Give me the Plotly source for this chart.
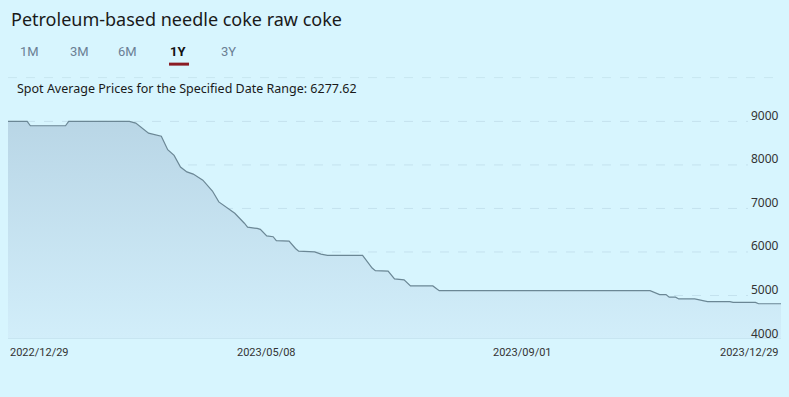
import plotly.graph_objects as go

# ---- data (breakpoints; x = trading-day index) ----
day_index = [0, 6, 7, 18, 19, 38, 40, 43, 44, 48, 50, 52, 54, 56, 58, 61, 64, 66, 68,
             71, 74, 75, 78, 79, 81, 83, 84, 88, 90, 91, 96, 98, 100, 111, 114, 115,
             119, 121, 124, 126, 133, 135, 201, 203, 204, 206, 207, 209, 210, 215,
             219, 226, 227, 234, 235, 242]
price = [9000, 9000, 8900, 8900, 9000, 9000, 8960, 8800, 8730, 8660, 8350, 8220, 7950,
         7840, 7790, 7650, 7400, 7150, 7050, 6890, 6660, 6570, 6540, 6520, 6370, 6350,
         6260, 6250, 6080, 6020, 6000, 5950, 5920, 5920, 5630, 5570, 5560, 5380, 5360,
         5220, 5220, 5110, 5110, 5050, 5020, 5020, 4960, 4960, 4920, 4920, 4860, 4860,
         4840, 4840, 4810, 4810]

tick_index = [0, 81, 161, 242]
tick_labels = ["2022/12/29", "2023/05/08", "2023/09/01", "2023/12/29"]
y_ticks = [4000, 5000, 6000, 7000, 8000, 9000]

title_text = "Petroleum-based needle coke raw coke"
tabs = ["1M", "3M", "6M", "1Y", "3Y"]
active_tab = "1Y"
avg_text = "Spot Average Prices for the Specified Date Range: 6277.62"

BG = "#d7f5fe"
W, H = 789, 397
ML, MR, MT, MB = 8, 8, 103.5, 57.7

fig = go.Figure()
plot_h = H - MT - MB
plot_w = W - ML - MR
def ypaper(pix):
    return (H - MB - pix) / plot_h
def xpaper(pix):
    return (pix - ML) / plot_w

# dashed gridlines (stop short of the right-hand labels) + y labels
for v in y_ticks:
    if v != y_ticks[0]:
        fig.add_shape(type="line", xref="paper", x0=0, x1=xpaper(748), yref="y", y0=v, y1=v,
                      line=dict(color="#c4e2ee", width=1, dash="dash"), layer="below")
    fig.add_annotation(x=1, xref="paper", y=v, yref="y", text=str(v), showarrow=False,
                       xanchor="right", yanchor="middle", yshift=6,
                       font=dict(family="Noto Sans", size=12, color="#333"))

fig.add_trace(go.Scatter(
    x=day_index, y=price, mode="lines",
    line=dict(color="#6b8795", width=1.2),
    fill="tozeroy",
    fillgradient=dict(type="vertical", start=4000, stop=9000,
                      colorscale=[[0, "#d2eefa"], [1, "#b9d6e6"]]),
    hoverinfo="skip", showlegend=False,
))

# x tick labels as annotations (first left-aligned, last right-aligned)
anchors = ["left", "center", "center", "right"]
for xi, lab, anc in zip(tick_index, tick_labels, anchors):
    fig.add_annotation(x=xi, xref="x", y=ypaper(353), yref="paper", text=lab,
                       showarrow=False, xanchor=anc, yanchor="middle",
                       font=dict(family="Roboto", size=11, color="#333"))

fig.update_layout(
    width=W, height=H,
    paper_bgcolor=BG, plot_bgcolor=BG,
    margin=dict(l=ML, r=MR, t=MT, b=MB),
    showlegend=False,
    xaxis=dict(range=[0, 242], showgrid=False, zeroline=False, showticklabels=False,
               showline=False, fixedrange=True),
    yaxis=dict(range=[4000, 9400], showgrid=False, showticklabels=False,
               zeroline=False, showline=False, fixedrange=True),
)

# baseline at 4000 (solid)
fig.add_shape(type="line", xref="paper", x0=0, x1=1, yref="y", y0=y_ticks[0], y1=y_ticks[0],
              line=dict(color="#bcdde9", width=1))

fig.add_annotation(x=xpaper(9), y=ypaper(18), xref="paper", yref="paper",
                   text=title_text, showarrow=False, xanchor="left", yanchor="middle",
                   font=dict(family="Noto Sans", size=18, color="#1a1a1a"))

tab_x = [29, 79, 128, 178, 229]
for tx, t in zip(tab_x, tabs):
    active = t == active_tab
    fig.add_annotation(x=xpaper(tx), y=ypaper(51), xref="paper", yref="paper",
                       text=f"<b>{t}</b>" if active else t, showarrow=False,
                       xanchor="center", yanchor="middle",
                       font=dict(family="Roboto", size=13,
                                 color="#111" if active else "#6b7f95"))
fig.add_shape(type="rect", xref="paper", yref="paper",
              x0=xpaper(169), x1=xpaper(189), y0=ypaper(65), y1=ypaper(62),
              fillcolor="#8b1c24", line=dict(width=0))
fig.add_shape(type="line", xref="paper", yref="paper",
              x0=xpaper(8), x1=xpaper(781), y0=ypaper(77), y1=ypaper(77),
              line=dict(color="#c8e6f0", width=1, dash="dash"))

fig.add_annotation(x=xpaper(15), y=ypaper(88), xref="paper", yref="paper",
                   text=avg_text, showarrow=False, xanchor="left", yanchor="middle",
                   font=dict(family="Noto Sans", size=12.5, color="#1a1a1a"))

fig.write_html("out.html", config={"displayModeBar": False},
               post_script="document.body.style.margin='0';document.body.style.background='" + BG + "';")
